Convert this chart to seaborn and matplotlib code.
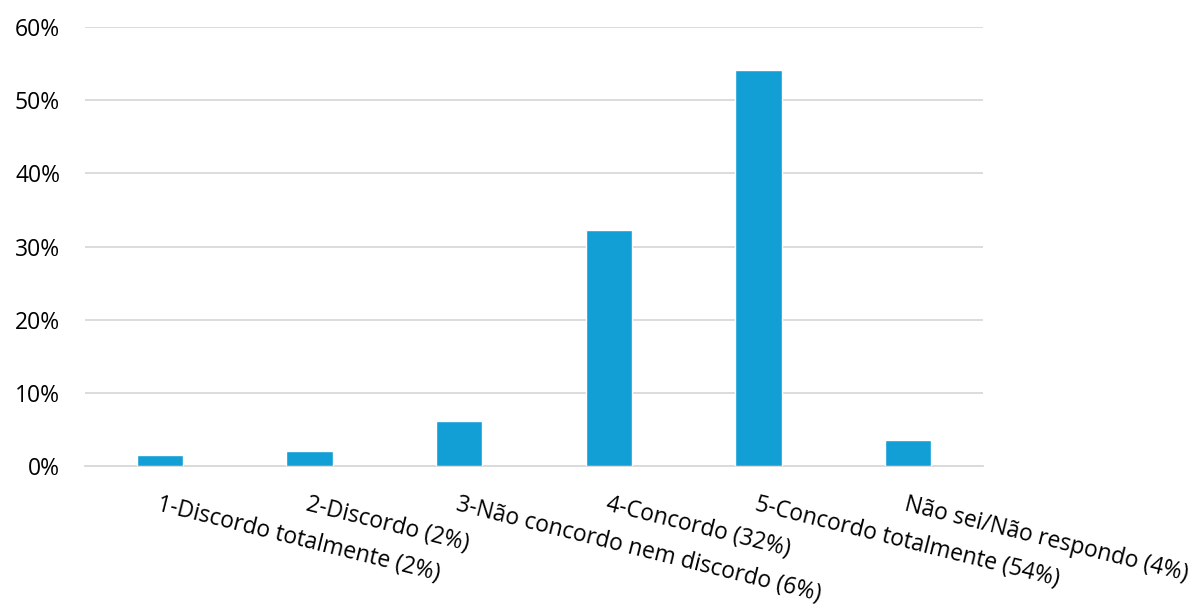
import matplotlib
matplotlib.use("Agg")
import matplotlib.pyplot as plt
import seaborn as sns
import pandas as pd
from matplotlib.ticker import PercentFormatter

categories = [
    "1-Discordo totalmente (2%)",
    "2-Discordo (2%)",
    "3-Não concordo nem discordo (6%)",
    "4-Concordo (32%)",
    "5-Concordo totalmente (54%)",
    "Não sei/Não respondo (4%)",
]
values = [0.015, 0.020, 0.062, 0.322, 0.541, 0.036]

sns.set_theme(style="white")
plt.rcParams["font.family"] = ["Open Sans", "DejaVu Sans"]

df = pd.DataFrame({"cat": categories, "val": values})

fig = plt.figure(figsize=(12.01, 6.07), dpi=100)
ax = fig.add_axes([0.0708, 0.2323, 0.7477, 0.7232])

sns.barplot(data=df, x="cat", y="val", color="#129FD6", saturation=1,
            width=0.31, ax=ax, zorder=3)

ax.set_ylim(0, 0.6)
ax.set_yticks([0, 0.1, 0.2, 0.3, 0.4, 0.5, 0.6])
ax.yaxis.set_major_formatter(PercentFormatter(1.0, decimals=0))
ax.grid(axis="y", color="#D9D9D9", linewidth=1.3, zorder=0)
ax.set_xlabel("")
ax.set_ylabel("")
for s in ["top", "right", "left"]:
    ax.spines[s].set_visible(False)
ax.spines["bottom"].set_color("#D9D9D9")
ax.spines["bottom"].set_linewidth(1.3)
ax.tick_params(axis="y", length=0, pad=18, labelsize=16.5, labelcolor="black")
ax.tick_params(axis="x", length=0, pad=19, labelsize=16.5, labelcolor="black")
for lab in ax.get_xticklabels():
    lab.set_rotation(-14)
    lab.set_rotation_mode("anchor")
    lab.set_ha("left")
    lab.set_va("top")

fig.savefig("out.png", dpi=100, facecolor="white")
